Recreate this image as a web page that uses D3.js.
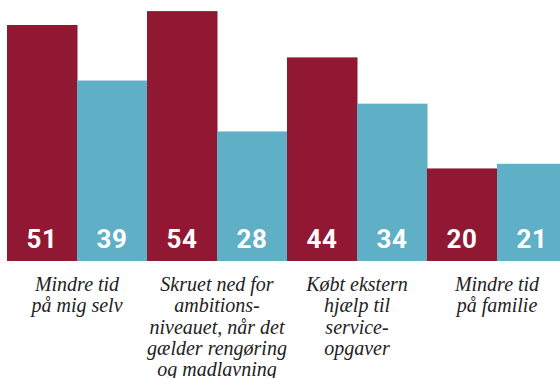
<!DOCTYPE html>
<meta charset="utf-8">
<head>
	<style type="text/css">
		body { margin: 0; background: #fff; }
		#wrap { position: relative; width: 560px; height: 378px; }
		.cat {
			position: absolute;
			top: 274px;
			width: 140px;
			text-align: center;
			font-family: "Liberation Serif", "DejaVu Serif", serif;
			font-style: italic;
			font-size: 20px;
			line-height: 21.3px;
			color: #222;
		}
	</style>
	<title>Bar chart</title>
</head>
<script src="https://cdn.jsdelivr.net/npm/d3@7"></script>

<div id="wrap"><svg width="560" height="378" id="svg1"></svg></div>

<script>
	// data
	const categories = ['Mindre tid på mig selv', 'Skruet ned for ambitionsniveauet', 'Købt ekstern hjælp', 'Mindre tid på familie'];
	const labelLines = [
		['Mindre tid', 'på mig selv'],
		['Skruet ned for', 'ambitions-', 'niveauet, når det', 'gælder rengøring', 'og madlavning'],
		['Købt ekstern', 'hjælp til', 'service-', 'opgaver'],
		['Mindre tid', 'på familie']
	];
	const seriesA = [51, 54, 44, 20];
	const seriesB = [39, 28, 34, 21];
	const seriesNames = ['a', 'b'];
	const colors = ['#911832', '#5fb0c7'];

	const svg1 = d3.select('#svg1');
	const baseY = 261;

	const x0 = d3.scaleBand()
		.domain(categories)
		.range([7, 567]);

	const x1 = d3.scaleBand()
		.domain(seriesNames)
		.range([0, x0.bandwidth()]);

	const y = d3.scaleLinear()
		.domain([0, 56.4])
		.range([baseY, 0]);

	const color = d3.scaleOrdinal().domain(seriesNames).range(colors);

	const groups = svg1.append('g')
		.selectAll('g')
		.data(categories)
		.enter()
		.append('g')
			.attr('transform', d => `translate(${x0(d)},0)`);

	const bars = groups.selectAll('g')
		.data((d, i) => [{s: 'a', v: seriesA[i]}, {s: 'b', v: seriesB[i]}])
		.enter()
		.append('g');

	bars.append('rect')
		.attr('x', d => x1(d.s))
		.attr('y', d => y(d.v))
		.attr('width', x1.bandwidth() + 0.5)
		.attr('height', d => baseY - y(d.v))
		.attr('fill', d => color(d.s));

	bars.append('text')
		.attr('font-family', 'Roboto, sans-serif')
		.attr('font-weight', 700)
		.attr('fill', '#fff')
		.attr('x', d => x1(d.s) + x1.bandwidth() / 2)
		.attr('y', 248)
		.attr('text-anchor', 'middle')
		.attr('font-size', 26)
		.attr('letter-spacing', 0.5)
		.text(d => d.v);

	// category labels as html so the serif italic is used
	d3.select('#wrap')
		.selectAll('div.cat')
		.data(categories)
		.enter()
		.append('div')
			.attr('class', 'cat')
			.style('left', d => (x0(d) + x0.bandwidth() / 2 - 70) + 'px')
			.html((d, i) => labelLines[i].join('<br>'));
</script>
